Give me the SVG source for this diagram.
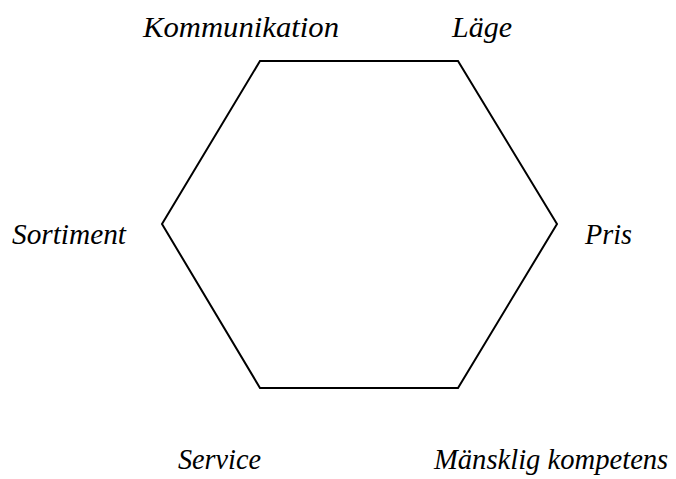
<svg xmlns="http://www.w3.org/2000/svg" width="676" height="479" viewBox="0 0 676 479">
<style>
.lbl{font-family:"Liberation Serif","Times New Roman",serif;font-style:italic;font-size:30px;fill:#000}
.hex{fill:none;stroke:#000;stroke-width:2}
</style>
<rect width="676" height="479" fill="#fff"/>
<g id="hexagon"><polygon class="hex" points="260,61 458,61 557,224 458,388 260,388 162,224"/></g>
<g id="kommunikation"><text class="lbl" x="143" y="37" textLength="196" lengthAdjust="spacingAndGlyphs">Kommunikation</text></g>
<g id="lage"><text class="lbl" x="452" y="37" textLength="60" lengthAdjust="spacingAndGlyphs">Läge</text></g>
<g id="sortiment"><text class="lbl" x="12" y="244" textLength="114" lengthAdjust="spacingAndGlyphs">Sortiment</text></g>
<g id="pris"><text class="lbl" x="585" y="244" textLength="47" lengthAdjust="spacingAndGlyphs">Pris</text></g>
<g id="service"><text class="lbl" x="178" y="469" textLength="83" lengthAdjust="spacingAndGlyphs">Service</text></g>
<g id="kompetens"><text class="lbl" x="434" y="469" style="font-size:28.6px">Mänsklig kompetens</text></g>
</svg>
